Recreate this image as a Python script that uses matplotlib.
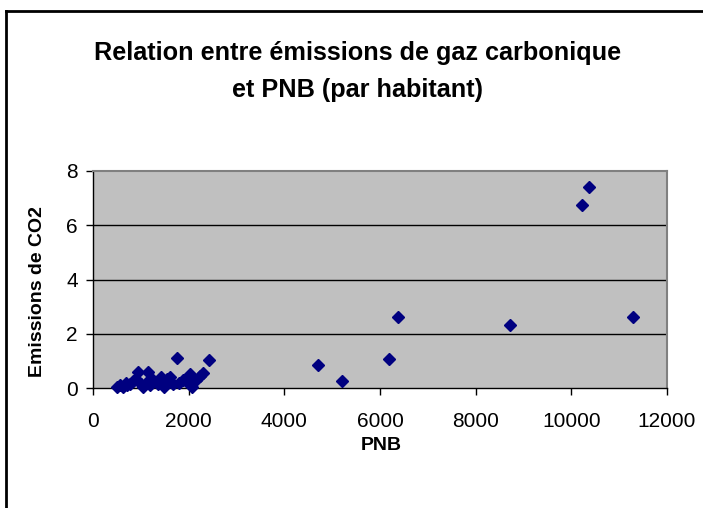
import matplotlib
matplotlib.use("Agg")
import matplotlib.pyplot as plt
from matplotlib.lines import Line2D

# ---- data ----
pnb = [500, 560, 620, 680, 720, 780, 840, 900, 950, 1000, 1050, 1100, 1150,
       1200, 1250, 1350, 1420, 1480, 1550, 1620, 1680, 1750, 1800, 1880,
       1950, 2030, 2080, 2150, 2230, 2300, 2420,
       4710, 5210, 6180, 6380, 8720, 10220, 10360, 11280]
co2 = [0.05, 0.10, 0.05, 0.20, 0.10, 0.15, 0.25, 0.35, 0.60, 0.15, 0.05, 0.20, 0.60,
       0.10, 0.30, 0.15, 0.40, 0.05, 0.35, 0.40, 0.15, 1.10, 0.20, 0.30,
       0.25, 0.50, 0.05, 0.30, 0.45, 0.55, 1.02,
       0.85, 0.26, 1.06, 2.60, 2.32, 6.75, 7.40, 2.60]

x_ticks = [0, 2000, 4000, 6000, 8000, 10000, 12000]
y_ticks = [0, 2, 4, 6, 8]
title_lines = ["Relation entre émissions de gaz carbonique", "et PNB (par habitant)"]
x_label = "PNB"
y_label = "Emissions de CO2"

W, H = 703, 508
fam = ['Liberation Sans', 'DejaVu Sans']

fig = plt.figure(figsize=(W / 100, H / 100), dpi=100)
fig.patch.set_facecolor("white")

# plot area in pixels
left, right, top, bottom = 93, 667, 171, 388
ax = fig.add_axes([left / W, 1 - bottom / H, (right - left) / W, (bottom - top) / H])
ax.set_facecolor("#C0C0C0")
ax.set_xlim(0, 12000)
ax.set_ylim(0, 8)
ax.set_xticks(x_ticks)
ax.set_yticks(y_ticks)
ax.set_xticklabels([str(t) for t in x_ticks], family=fam, fontsize=15)
ax.set_yticklabels([str(t) for t in y_ticks], family=fam, fontsize=15)
ax.tick_params(direction="out", length=5, width=1, color="black")
ax.tick_params(axis="x", pad=12)
ax.tick_params(axis="y", pad=6)
for g in [2, 4, 6]:
    ax.axhline(g, color="black", lw=1, zorder=1)
for s in ["top", "right"]:
    ax.spines[s].set_color("#808080")
    ax.spines[s].set_linewidth(1.5)
for s in ["left", "bottom"]:
    ax.spines[s].set_color("black")
    ax.spines[s].set_linewidth(1)

ax.plot(pnb, co2, linestyle="none", marker="D", markersize=6.2,
        color="#000080", markeredgecolor="#000080", zorder=3, clip_on=False)

# titles and labels
fig.text(358 / W, 1 - 60 / H, title_lines[0], ha="center", va="baseline",
         family=fam, fontweight="bold", fontsize=18.2)
fig.text(358 / W, 1 - 97 / H, title_lines[1], ha="center", va="baseline",
         family=fam, fontweight="bold", fontsize=18.2)
fig.text(381 / W, 1 - 445 / H, x_label, ha="center", va="center",
         family=fam, fontweight="bold", fontsize=14)
fig.text(38 / W, 1 - 292 / H, y_label, ha="center", va="center", rotation=90,
         family=fam, fontweight="bold", fontsize=14)

# outer chart frame (left and top edges visible)
fig.add_artist(Line2D([6 / W, 6 / W], [0, 1 - 11 / H], transform=fig.transFigure,
                      color="black", lw=2))
fig.add_artist(Line2D([6 / W, 1], [1 - 11 / H, 1 - 11 / H], transform=fig.transFigure,
                      color="black", lw=2))

fig.savefig("out.png", dpi=100)
